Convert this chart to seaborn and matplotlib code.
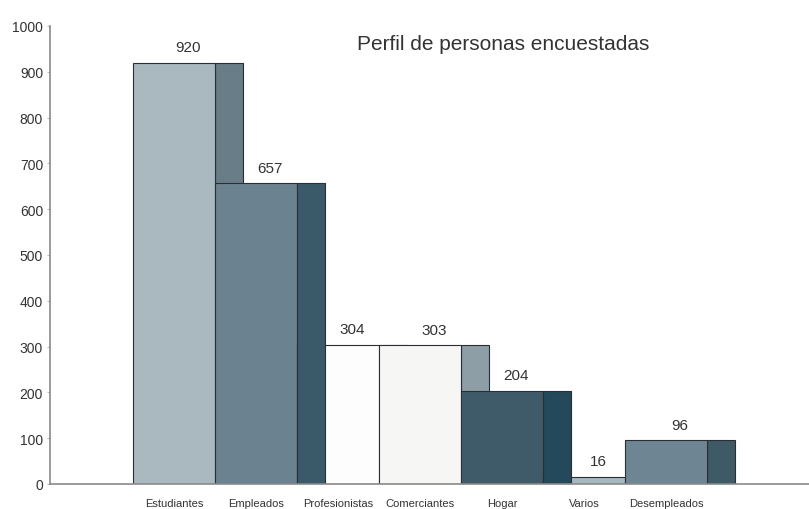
import numpy as np
import matplotlib
matplotlib.use("Agg")
import matplotlib.pyplot as plt
import seaborn as sns

sns.set_style("white")
plt.rcParams['font.family'] = ['Liberation Sans', 'DejaVu Sans']

# data
categorias = ["Estudiantes", "Empleados", "Profesionistas", "Comerciantes",
              "Hogar", "Varios", "Desempleados"]
personas = [920, 657, 304, 303, 204, 16, 96]

# colours of the front face and the shaded side face of each bar
front_colors = ["#a9b9bf", "#6b8390", "#fdfdfd", "#f6f6f4", "#3f5b69", "#a8b8c1", "#6e8694"]
side_colors = ["#687d88", "#3b5a69", "#f4f4f4", "#8d9ea6", "#24495a", "#7f939c", "#3e5a67"]
# side faces that sit over the next bar instead of behind it
side_on_top = [False, True, False, False, True, False, False]

side_w = 0.34

fig = plt.figure(figsize=(8.09, 5.10), dpi=100)
ax = fig.add_axes([50 / 809, 25 / 510, 759 / 809, 458 / 510])

sns.barplot(x=categorias, y=personas, hue=categorias, palette=front_colors,
            legend=False, width=1.0, edgecolor="#2b2f33", linewidth=0.8,
            saturation=1, ax=ax)
for p in ax.patches:
    p.set_zorder(2)

x = np.arange(len(categorias))
for i, v in enumerate(personas):
    ax.bar(x[i] + 0.5 + side_w / 2, v, width=side_w, color=side_colors[i],
           edgecolor="#2b2f33", linewidth=0.8,
           zorder=3 if side_on_top[i] else 1.5)
    ax.annotate(str(v), (x[i] + side_w / 2, v), xytext=(0, 6),
                textcoords="offset points", ha="center", va="bottom",
                fontsize=11, color="#333333", zorder=5)

ax.set_xlim(-1.51, 7.74)
ax.set_ylim(0, 1000)
ax.set_yticks(range(0, 1001, 100))
ax.set_xlabel("")
ax.set_ylabel("")

sns.despine(ax=ax)
for s in ["left", "bottom"]:
    ax.spines[s].set_color("#8a8a8a")
    ax.spines[s].set_linewidth(1.2)
    ax.spines[s].set_zorder(4)

ax.tick_params(axis="y", length=2, color="#bbbbbb", labelsize=10,
               labelcolor="#333333", pad=3, left=True)
ax.tick_params(axis="x", length=0, labelsize=8, labelcolor="#333333", pad=10)

fig.text(0.622, 0.912, "Perfil de personas encuestadas", ha="center",
         va="center", fontsize=15, color="#333333")

fig.savefig("out.png", dpi=100)
